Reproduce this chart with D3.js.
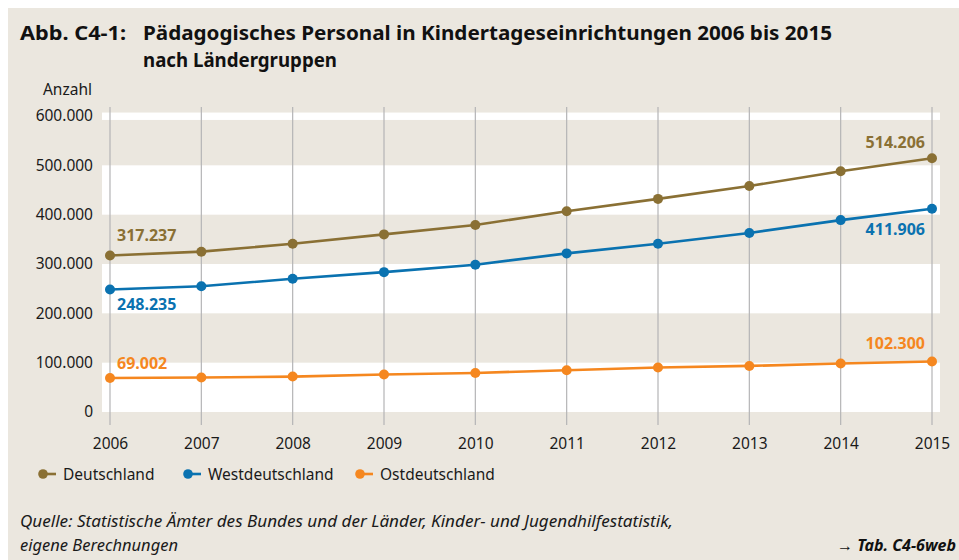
<!DOCTYPE html>
<html><head><meta charset="utf-8">
<script src="https://cdn.jsdelivr.net/npm/d3@7"></script>
<style>
html,body{margin:0;padding:0;background:#fff;}
svg{display:block;}
text{font-family:"Noto Sans",sans-serif;}
</style></head>
<body>
<svg id="chart" width="959" height="560"></svg>
<script>
const years = [2006, 2007, 2008, 2009, 2010, 2011, 2012, 2013, 2014, 2015];
const deutschland = [317237, 325000, 341000, 360000, 379000, 407000, 432000, 458000, 488000, 514206];
const westdeutschland = [248235, 255000, 270000, 283500, 298500, 321500, 341000, 363000, 389000, 411906];
const ostdeutschland = [69002, 69800, 71800, 75900, 79200, 84600, 90100, 93400, 98200, 102300];
const seriesNames = ["Deutschland", "Westdeutschland", "Ostdeutschland"];
const seriesColors = ["#8a7034", "#0a72b0", "#f5871f"];
const yTicks = [0, 100000, 200000, 300000, 400000, 500000, 600000];
const whiteBands = [[0, 100000], [200000, 300000], [400000, 500000], [592000, 607000]];

const svg = d3.select("#chart");
const bg = "#ebe7df";
svg.append("rect").attr("x", 8).attr("y", 8).attr("width", 951).attr("height", 552).attr("fill", bg);

const x = d3.scalePoint().domain(years).range([110, 932]);
const y = d3.scaleLinear().domain([0, 600000]).range([412, 116]);

// title
svg.append("text").attr("x", 20).attr("y", 40).attr("font-size", 19).attr("font-weight", "bold")
  .attr("fill", "#111").text("Abb. C4-1:")
  .attr("textLength", 106).attr("lengthAdjust", "spacingAndGlyphs");
svg.append("text").attr("x", 143).attr("y", 40).attr("font-size", 19).attr("font-weight", "bold")
  .attr("fill", "#111").text("Pädagogisches Personal in Kindertageseinrichtungen 2006 bis 2015")
  .attr("textLength", 689).attr("lengthAdjust", "spacingAndGlyphs");
svg.append("text").attr("x", 143).attr("y", 67).attr("font-size", 19).attr("font-weight", "bold")
  .attr("fill", "#111").text("nach Ländergruppen")
  .attr("textLength", 194).attr("lengthAdjust", "spacingAndGlyphs");

// bands
svg.append("g").selectAll("rect").data(whiteBands).join("rect")
  .attr("x", 102).attr("width", 838)
  .attr("y", d => y(d[1])).attr("height", d => y(d[0]) - y(d[1]))
  .attr("fill", "#fff");

// vertical grid
svg.append("g").selectAll("line").data(years).join("line")
  .attr("x1", d => x(d)).attr("x2", d => x(d))
  .attr("y1", 107).attr("y2", 425)
  .attr("stroke", "#b4b4b6").attr("stroke-width", 1.2);

// y axis
const fmt = v => v === 0 ? "0" : d3.format(",")(v).replace(/,/g, ".");
const yAxis = d3.axisLeft(y).tickValues(yTicks).tickFormat(fmt).tickSize(0).tickPadding(0);
const gy = svg.append("g").attr("transform", "translate(93,0)").call(yAxis);
gy.select(".domain").remove();
gy.selectAll("text").attr("font-size", 15.5).attr("fill", "#1a1a1a").attr("font-family", "Noto Sans");

svg.append("text").attr("x", 92).attr("y", 95).attr("text-anchor", "end")
  .attr("font-size", 15.5).attr("fill", "#1a1a1a").text("Anzahl");

// x axis
const xAxis = d3.axisBottom(x).tickSize(0).tickPadding(0);
const gx = svg.append("g").attr("transform", "translate(0,438)").call(xAxis);
gx.select(".domain").remove();
gx.selectAll("text").attr("font-size", 15.5).attr("fill", "#1a1a1a").attr("font-family", "Noto Sans");

// lines
const allSeries = [deutschland, westdeutschland, ostdeutschland];
const line = d3.line().x((d, i) => x(years[i])).y(d => y(d));
allSeries.forEach((s, k) => {
  svg.append("path").datum(s).attr("d", line).attr("fill", "none")
    .attr("stroke", seriesColors[k]).attr("stroke-width", 2.6);
  svg.append("g").selectAll("circle").data(s).join("circle")
    .attr("cx", (d, i) => x(years[i])).attr("cy", d => y(d)).attr("r", 5)
    .attr("fill", seriesColors[k]);
});

// value labels
const fmtL = v => d3.format(",")(v).replace(/,/g, ".");
const labelSpecs = [
  {s: 0, i: 0, dx: 7, dy: -14, anchor: "start"},
  {s: 1, i: 0, dx: 7, dy: 20, anchor: "start"},
  {s: 2, i: 0, dx: 7, dy: -9, anchor: "start"},
  {s: 0, i: 9, dx: -7, dy: -10, anchor: "end"},
  {s: 1, i: 9, dx: -7, dy: 26, anchor: "end"},
  {s: 2, i: 9, dx: -7, dy: -13, anchor: "end"}
];
svg.append("g").selectAll("text").data(labelSpecs).join("text")
  .attr("x", d => x(years[d.i]) + d.dx)
  .attr("y", d => y(allSeries[d.s][d.i]) + d.dy)
  .attr("text-anchor", d => d.anchor)
  .attr("font-size", 16).attr("font-weight", "bold")
  .attr("fill", d => seriesColors[d.s])
  .text(d => fmtL(allSeries[d.s][d.i]));

// legend
const legX = [43, 188, 360];
const lg = svg.append("g").selectAll("g").data(seriesNames).join("g")
  .attr("transform", (d, i) => `translate(${legX[i]},474)`);
lg.append("line").attr("x1", 0).attr("x2", 13).attr("stroke", (d, i) => seriesColors[i]).attr("stroke-width", 2.6);
lg.append("circle").attr("r", 4.8).attr("fill", (d, i) => seriesColors[i]);
lg.append("text").attr("x", 20).attr("y", 5.5).attr("font-size", 15.5).attr("fill", "#1a1a1a").text(d => d);

// source
svg.append("text").attr("x", 20).attr("y", 527).attr("font-size", 16).attr("font-style", "italic")
  .attr("fill", "#1a1a1a").text("Quelle: Statistische Ämter des Bundes und der Länder, Kinder- und Jugendhilfestatistik,")
  .attr("textLength", 653).attr("lengthAdjust", "spacingAndGlyphs");
svg.append("text").attr("x", 20).attr("y", 551).attr("font-size", 16).attr("font-style", "italic")
  .attr("fill", "#1a1a1a").text("eigene Berechnungen")
  .attr("textLength", 158).attr("lengthAdjust", "spacingAndGlyphs");
svg.append("text").attr("x", 956).attr("y", 551).attr("text-anchor", "end").attr("font-size", 16)
  .attr("font-style", "italic").attr("font-weight", "bold").attr("fill", "#111").text("→ Tab. C4-6web")
  .attr("textLength", 119).attr("lengthAdjust", "spacingAndGlyphs");
</script>
</body></html>
